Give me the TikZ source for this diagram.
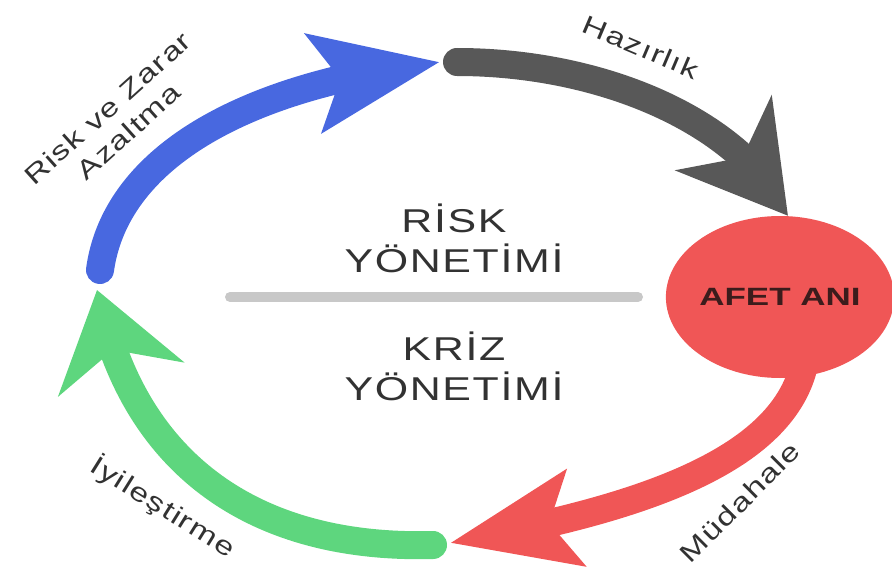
\documentclass[tikz,border=0pt]{standalone}
\usepackage{fontspec}
\setmainfont{Liberation Sans}
\newfontfamily\widefont[FakeStretch=1.3,LetterSpace=5]{Liberation Sans}
\newfontfamily\afetfont[FakeStretch=1.4]{Liberation Sans}
\usetikzlibrary{arrows.meta,bending,shapes.geometric}
\definecolor{riskblue}{RGB}{72,104,224}
\definecolor{prepgray}{RGB}{88,88,88}
\definecolor{afetred}{RGB}{240,86,86}
\definecolor{healgreen}{RGB}{94,214,126}
\definecolor{divgray}{RGB}{200,200,200}
\definecolor{txtgray}{RGB}{50,50,50}
\definecolor{afettxt}{RGB}{60,28,28}
\begin{document}
\begin{tikzpicture}[x=1pt,y=-1pt,
  phase/.style={line width=28pt,line cap=round},
  steplabel/.style={font=\widefont\fontsize{26}{31}\selectfont,text=txtgray,align=center},
  mgmt/.style={font=\widefont\fontsize{33}{40}\selectfont,text=txtgray,align=center}]
\useasboundingbox (0,0) rectangle (892,578);

% Disaster moment
\node[ellipse,fill=afetred,minimum width=200pt,minimum height=162pt,inner sep=0pt,
  font=\afetfont\bfseries\fontsize{25}{28}\selectfont,text=afettxt] (afet) at (780,297) {AFET ANI};

% Arrow end points
\coordinate (riskstart) at (100,270);
\coordinate (risktip) at (440,62);
\coordinate (prepstart) at (457,62);
\coordinate (respstart) at ([yshift=20pt]afet.-72);
\coordinate (resptip) at (450,543);
\coordinate (recstart) at (433,545);
\coordinate (rectip) at (97,290);

% Cycle arrows
\draw[phase,riskblue,-{Stealth[length=126pt,width=97pt,inset=25pt]}]
  (riskstart) .. controls (115,160) and (240,85) .. (risktip);
\draw[phase,prepgray,-{Stealth[length=104pt,width=120pt,inset=30pt]}]
  (prepstart) .. controls (600,62) and (740,120) .. ([xshift=8pt]afet.north);
\draw[phase,afetred,-{Stealth[length=126pt,width=95pt,inset=25pt]}]
  (respstart) .. controls (790,460) and (640,510) .. (resptip);
\draw[phase,healgreen,-{Stealth[length=92pt,width=129pt,inset=30pt]}]
  (recstart) .. controls (250,550) and (130,460) .. (rectip);

% Divider
\coordinate (divl) at (230,297);
\coordinate (divr) at (638,297);
\draw[divgray,line width=10pt,line cap=round] (divl) -- (divr);

% Labels
\node[mgmt] (risk) at (454,238) {RİSK\\YÖNETİMİ};
\node[mgmt] (kriz) at (454,366) {KRİZ\\YÖNETİMİ};
\node[steplabel,rotate=42] (rzlbl) at (118,120) {Risk ve Zarar\\Azaltma};
\node[steplabel,rotate=-23] (hzlbl) at (641,47) {Hazırlık};
\node[steplabel,rotate=45] (mdlbl) at (740,502) {Müdahale};
\node[steplabel,rotate=-32] (iylbl) at (163,507) {İyileştirme};
\end{tikzpicture}
\end{document}
